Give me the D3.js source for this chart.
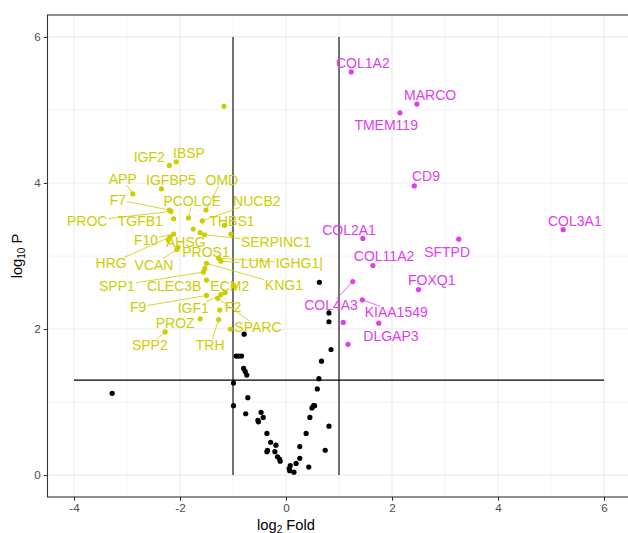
<!DOCTYPE html>
<html>
<head>
<meta charset="utf-8">
<script src="https://cdn.jsdelivr.net/npm/d3@7"></script>
<style>
body { margin: 0; background: #fff; }
svg { font-family: "Liberation Sans", Arial, sans-serif; }
</style>
</head>
<body>
<svg width="628" height="533"></svg>
<script>
// up-regulated genes (magenta)
var upGenes = ["COL1A2", "MARCO", "TMEM119", "CD9", "COL3A1", "COL2A1", "SFTPD", "COL11A2", "FOXQ1", "COL4A3", "KIAA1549", "DLGAP3"];
var upFold = [1.23, 2.47, 2.15, 2.42, 5.23, 1.45, 3.26, 1.64, 2.50, 1.26, 1.44, 1.75];
var upP = [5.52, 5.08, 4.96, 3.96, 3.36, 3.24, 3.23, 2.87, 2.54, 2.65, 2.40, 2.08];
var upLabelFold = [1.45, 2.72, 1.89, 2.64, 5.45, 1.19, 3.04, 1.85, 2.75, 0.85, 2.08, 1.98];
var upLabelP = [5.64, 5.21, 4.79, 4.10, 3.48, 3.36, 3.05, 3.00, 2.67, 2.33, 2.23, 1.90];
var upOtherFold = [1.08, 1.17];
var upOtherP = [2.09, 1.79];

// down-regulated genes (yellow)
var downGenes = ["IGF2", "IBSP", "APP", "IGFBP5", "F7", "PROC", "TGFB1", "OMD", "PCOLCE", "NUCB2", "THBS1", "SERPINC1", "F10", "AHSG", "HRG", "PROS1", "VCAN", "LUM", "IGHG1|", "SPP1", "CLEC3B", "KNG1", "ECM2", "F9", "IGF1", "F2", "SPARC", "PROZ", "TRH", "SPP2"];
var downFold = [-2.20, -2.07, -2.89, -2.35, -2.20, -2.17, -2.12, -1.51, -1.84, -1.58, -1.16, -1.54, -2.12, -2.22, -2.19, -2.04, -2.06, -1.23, -1.27, -1.56, -1.50, -1.50, -0.98, -1.50, -1.23, -1.25, -1.29, -1.62, -1.27, -2.28];
var downP = [4.24, 4.29, 3.85, 3.92, 3.63, 3.61, 3.51, 3.63, 3.52, 3.48, 3.42, 3.29, 3.30, 3.22, 3.26, 3.12, 3.09, 2.93, 2.97, 2.78, 2.67, 2.90, 2.59, 2.46, 2.47, 2.26, 2.42, 2.14, 2.13, 1.96];
var downLabelFold = [-2.58, -1.83, -3.08, -2.17, -3.17, -3.75, -2.75, -1.21, -1.77, -0.55, -1.02, -0.19, -2.64, -1.89, -3.30, -1.51, -2.49, -0.57, 0.25, -3.19, -2.11, -0.04, -1.06, -2.79, -1.75, -1.00, -0.53, -2.09, -1.43, -2.57];
var downLabelP = [4.36, 4.41, 4.05, 4.04, 3.77, 3.48, 3.48, 4.04, 3.75, 3.75, 3.48, 3.19, 3.22, 3.19, 2.90, 3.05, 2.88, 2.90, 2.90, 2.59, 2.59, 2.60, 2.59, 2.30, 2.29, 2.30, 2.03, 2.08, 1.78, 1.78];
var downOtherFold = [-1.17, -1.75, -1.62, -1.04, -1.53, -1.15, -1.05];
var downOtherP = [5.05, 3.37, 3.32, 3.30, 2.83, 2.50, 2.00];

// not significant (black)
var nsFold = [-3.28, -0.79, -0.94, -0.89, -0.84, -0.80, -0.77, -0.74, -0.99, -0.72, -0.99, -0.76, -0.47, -0.43, -0.53, -0.52, -0.36, -0.29, -0.19, -0.35, -0.36, -0.21, -0.16, -0.12, -0.11, 0.08, 0.06, 0.07, 0.15, 0.19, 0.26, 0.26, 0.43, 0.38, 0.45, 0.49, 0.52, 0.54, 0.59, 0.62, 0.67, 0.85, 0.81, 0.74, 0.81, 0.81, 0.63];
var nsP = [1.12, 1.93, 1.63, 1.63, 1.63, 1.46, 1.42, 1.37, 1.26, 1.06, 0.95, 0.84, 0.86, 0.79, 0.75, 0.73, 0.57, 0.45, 0.41, 0.34, 0.32, 0.32, 0.25, 0.22, 0.19, 0.13, 0.09, 0.06, 0.04, 0.16, 0.23, 0.39, 0.11, 0.57, 0.79, 0.92, 0.95, 0.95, 1.18, 1.32, 1.56, 1.72, 0.67, 0.34, 2.10, 2.22, 2.64];

var xTicks = [-4, -2, 0, 2, 4, 6];
var yTicks = [0, 2, 4, 6];
var xMinor = [-3, -1, 1, 3, 5];
var yMinor = [1, 3, 5];
var foldCut = [-1, 1];
var pCut = 1.3;

var yellow = "#CDCD00", magenta = "#E03CF0";

var svg = d3.select("svg");
var xScale = d3.scaleLinear().domain([-4.5, 6.5]).range([47.5, 630.5]);
var yScale = d3.scaleLinear().domain([-0.3, 6.3]).range([497, 15]);

var panel = svg.append("g");

// grid
panel.selectAll(".xminor").data(xMinor).enter().append("line")
	.attr("x1", d => xScale(d)).attr("x2", d => xScale(d))
	.attr("y1", 15).attr("y2", 497)
	.attr("stroke", "#EBEBEB").attr("stroke-width", 0.55);
panel.selectAll(".yminor").data(yMinor).enter().append("line")
	.attr("x1", 47.5).attr("x2", 630)
	.attr("y1", d => yScale(d)).attr("y2", d => yScale(d))
	.attr("stroke", "#EBEBEB").attr("stroke-width", 0.55);
panel.selectAll(".xmajor").data(xTicks).enter().append("line")
	.attr("x1", d => xScale(d)).attr("x2", d => xScale(d))
	.attr("y1", 15).attr("y2", 497)
	.attr("stroke", "#EBEBEB").attr("stroke-width", 1.1);
panel.selectAll(".ymajor").data(yTicks).enter().append("line")
	.attr("x1", 47.5).attr("x2", 630)
	.attr("y1", d => yScale(d)).attr("y2", d => yScale(d))
	.attr("stroke", "#EBEBEB").attr("stroke-width", 1.1);

// cut-off lines
panel.selectAll(".vcut").data(foldCut).enter().append("line")
	.attr("x1", d => xScale(d)).attr("x2", d => xScale(d))
	.attr("y1", yScale(0)).attr("y2", yScale(6))
	.attr("stroke", "#000").attr("stroke-width", 1.1);
panel.append("line")
	.attr("x1", xScale(-4)).attr("x2", xScale(6))
	.attr("y1", yScale(pCut)).attr("y2", yScale(pCut))
	.attr("stroke", "#000").attr("stroke-width", 1.1);

// points
function dots(fx, fy, color) {
	panel.append("g").selectAll("circle").data(fx).enter().append("circle")
		.attr("cx", d => xScale(d))
		.attr("cy", (d, i) => yScale(fy[i]))
		.attr("r", 2.6)
		.attr("fill", color);
}
dots(nsFold, nsP, "#000");
dots(downFold, downP, yellow);
dots(downOtherFold, downOtherP, yellow);
dots(upFold, upP, magenta);
dots(upOtherFold, upOtherP, magenta);

// labels with repel-style segments
function labels(genes, fx, fy, lx, ly, color) {
	var g = panel.append("g");
	genes.forEach(function(name, i) {
		var cx = xScale(lx[i]), cy = yScale(ly[i]);
		var px = xScale(fx[i]), py = yScale(fy[i]);
		var t = g.append("text")
			.attr("x", cx).attr("y", cy).attr("dy", "0.35em")
			.attr("text-anchor", "middle")
			.attr("font-size", "14px")
			.attr("fill", color)
			.text(name);
		var hw = t.node().getComputedTextLength() / 2 + 1, hh = 6;
		var dx = px - cx, dy = py - cy;
		var s = Math.min(dx === 0 ? Infinity : hw / Math.abs(dx), dy === 0 ? Infinity : hh / Math.abs(dy));
		if (s >= 1) return;
		var ex = cx + dx * s, ey = cy + dy * s;
		var len = Math.hypot(px - ex, py - ey);
		if (len < 10) return;
		var k = (len - 2) / len;
		g.insert("line", "text")
			.attr("x1", ex).attr("y1", ey)
			.attr("x2", ex + (px - ex) * k).attr("y2", ey + (py - ey) * k)
			.attr("stroke", color).attr("stroke-width", 0.8);
	});
}
labels(downGenes, downFold, downP, downLabelFold, downLabelP, yellow);
labels(upGenes, upFold, upP, upLabelFold, upLabelP, magenta);

// border
svg.append("rect")
	.attr("x", 47.5).attr("y", 15)
	.attr("width", 600).attr("height", 482)
	.attr("fill", "none").attr("stroke", "#333").attr("stroke-width", 1.1);

// axes
var xAxis = svg.append("g")
	.attr("transform", "translate(0,497)")
	.call(d3.axisBottom(xScale).tickValues(xTicks).tickSize(3.7).tickPadding(3).tickFormat(d3.format("d")));
var yAxis = svg.append("g")
	.attr("transform", "translate(47.5,0)")
	.call(d3.axisLeft(yScale).tickValues(yTicks).tickSize(3.7).tickPadding(3).tickFormat(d3.format("d")));
[xAxis, yAxis].forEach(function(a) {
	a.select(".domain").remove();
	a.selectAll(".tick line").attr("stroke", "#333").attr("stroke-width", 1.1);
	a.selectAll(".tick text").attr("fill", "#4D4D4D")
		.style("font-size", "11.7px").style("font-family", "Liberation Sans, Arial, sans-serif");
});
xAxis.selectAll(".tick text").text(d => d < 0 ? "-" + Math.abs(d) : d);

// axis titles
var xt = svg.append("text")
	.attr("x", 286).attr("y", 530)
	.attr("text-anchor", "middle")
	.attr("font-size", "14.7px").attr("fill", "#000");
xt.append("tspan").text("log");
xt.append("tspan").attr("font-size", "10px").attr("dy", 3).text("2");
xt.append("tspan").attr("dy", -3).text(" Fold");

var yt = svg.append("text")
	.attr("transform", "translate(22,256) rotate(-90)")
	.attr("text-anchor", "middle")
	.attr("font-size", "14.7px").attr("fill", "#000");
yt.append("tspan").text("log");
yt.append("tspan").attr("font-size", "10px").attr("dy", 3).text("10");
yt.append("tspan").attr("dy", -3).text(" P");
</script>
</body>
</html>
